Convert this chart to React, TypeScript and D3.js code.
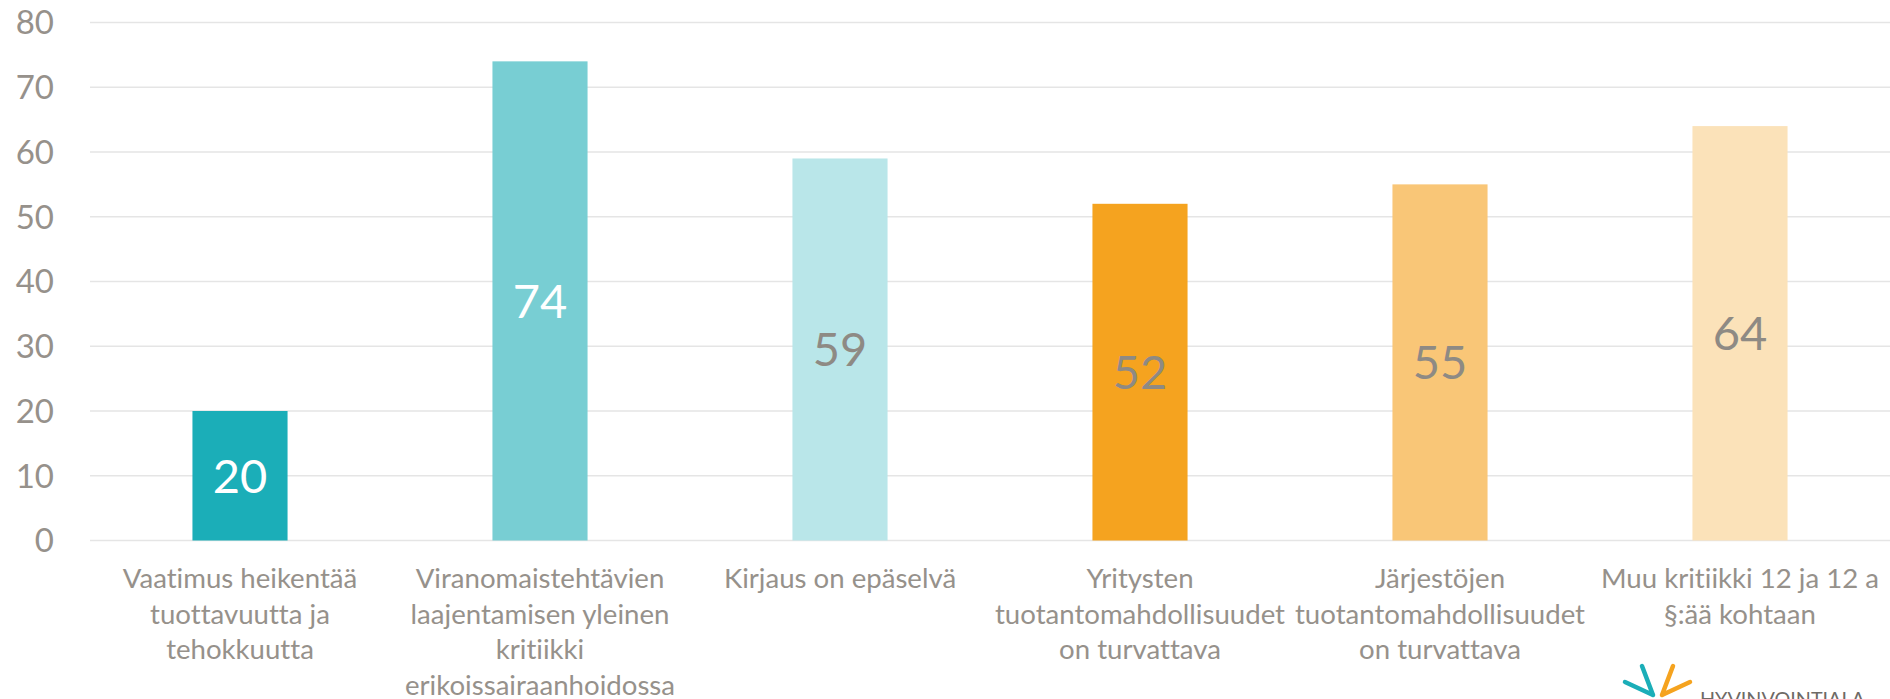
import React from "react";
import * as d3 from "d3";

const categories: string[] = [
  "Vaatimus heikentää\ntuottavuutta ja\ntehokkuutta",
  "Viranomaistehtävien\nlaajentamisen yleinen\nkritiikki\nerikoissairaanhoidossa",
  "Kirjaus on epäselvä",
  "Yritysten\ntuotantomahdollisuudet\non turvattava",
  "Järjestöjen\ntuotantomahdollisuudet\non turvattava",
  "Muu kritiikki 12 ja 12 a\n§:ää kohtaan",
];
const values: number[] = [20, 74, 59, 52, 55, 64];
const barColors: string[] = ["#1BAEB8", "#78CED3", "#B9E6E9", "#F5A31F", "#F9C677", "#FBE2B9"];
const labelColors: string[] = ["#FFFFFF", "#FFFFFF", "#8E8A84", "#8E8A84", "#8E8A84", "#8E8A84"];
const yTicks: number[] = [0, 10, 20, 30, 40, 50, 60, 70, 80];

const W = 1890;
const H = 699;
const FONT = "Lato, 'Open Sans', sans-serif";
const GREY = "#96918B";

export default function App() {
  const x = d3
    .scaleBand<string>()
    .domain(categories)
    .range([90, 1890])
    .paddingInner(0.683)
    .paddingOuter(0.683 / 2);
  const y = d3.scaleLinear().domain([0, 80]).range([540.5, 22.5]);

  return (
    <svg
      width={W}
      height={H}
      style={{ position: "absolute", left: 0, top: 0, background: "#fff", fontVariantLigatures: "none" }}
      fontFamily={FONT}
    >
      <rect x={0} y={0} width={W} height={H} fill="#fff" />
      {yTicks.map((t) => (
        <g key={t}>
          <line x1={90} x2={1890} y1={y(t)} y2={y(t)} stroke="#E5E5E5" strokeWidth={1.6} />
          <text x={54} y={y(t)} dy="0.36em" textAnchor="end" fontSize={33} fill={GREY}>
            {t}
          </text>
        </g>
      ))}
      {categories.map((c, i) => {
        const x0 = x(c)!;
        const bw = x.bandwidth();
        const v = values[i];
        return (
          <g key={c}>
            <rect x={x0} y={y(v)} width={bw} height={y(0) - y(v)} fill={barColors[i]} />
            <text
              x={x0 + bw / 2}
              y={(y(v) + y(0)) / 2}
              dy="0.36em"
              textAnchor="middle"
              fontSize={47}
              fill={labelColors[i]}
            >
              {v}
            </text>
            <text textAnchor="middle" fontSize={27.6} fill={GREY}>
              {c.split("\n").map((line, j) => (
                <tspan key={j} x={x0 + bw / 2} y={588 + j * 35.5}>
                  {line}
                </tspan>
              ))}
            </text>
          </g>
        );
      })}
      <g strokeLinecap="round" strokeWidth={4.5} fill="none">
        <path d="M1642,666 L1653,695 M1625,682 L1653,695" stroke="#1BAEB8" />
        <path d="M1673,666 L1662,695 M1690,682 L1662,695" stroke="#F5A31F" />
      </g>
      <text x={1700} y={705.5} fontSize={19} fill="#6E6A66" fontFamily={FONT} textLength={165} lengthAdjust="spacingAndGlyphs">
        HYVINVOINTIALA
      </text>
    </svg>
  );
}
